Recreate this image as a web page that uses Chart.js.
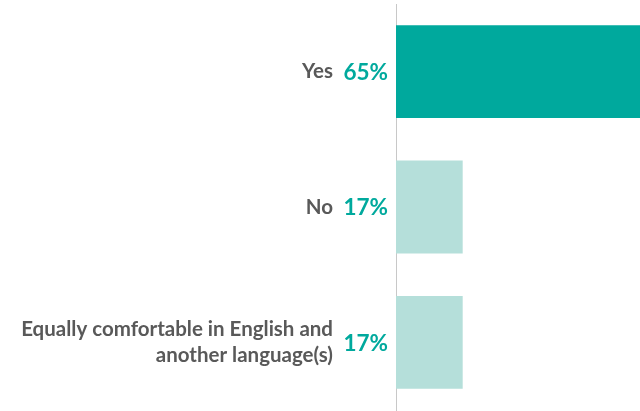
<!DOCTYPE html>
<html>
<head>
<meta charset="utf-8">
<script src="https://cdn.jsdelivr.net/npm/chart.js@4"></script>
<style>
html,body{margin:0;padding:0;background:#fff;}
#wrap{width:640px;height:411px;}
</style>
</head>
<body>
<div id="wrap"><canvas id="c" width="640" height="411"></canvas></div>
<script>
const categories = [["Yes"], ["No"], ["Equally comfortable in English and", "another language(s)"]];
const values = [65, 17, 17];
const valueLabels = ["65%", "17%", "17%"];
const barColors = ["#00A99D", "#B5DFDA", "#B5DFDA"];

const FONT = "Lato, 'Open Sans', sans-serif";

const valuePlugin = {
  id: 'valueLabels',
  afterDatasetsDraw(chart) {
    const ctx = chart.ctx;
    const meta = chart.getDatasetMeta(0);
    ctx.save();
    ctx.font = "bold 22.5px " + FONT;
    ctx.fillStyle = "#00A99D";
    ctx.textAlign = "right";
    ctx.textBaseline = "middle";
    meta.data.forEach((bar, i) => {
      ctx.fillText(valueLabels[i], chart.chartArea.left - 8, bar.y + 1);
    });
    ctx.restore();
  }
};

new Chart(document.getElementById('c'), {
  type: 'bar',
  data: {
    labels: categories,
    datasets: [{
      data: values,
      backgroundColor: barColors,
      borderWidth: 0,
      barPercentage: 0.686,
      categoryPercentage: 1
    }]
  },
  options: {
    indexAxis: 'y',
    responsive: false,
    animation: false,
    layout: { padding: { top: 4, bottom: 1, left: 0, right: 0 } },
    plugins: { legend: { display: false }, tooltip: { enabled: false } },
    scales: {
      x: { display: false, min: 0, max: 62.2 },
      y: {
        afterFit: s => { s.width = 396; s.paddingTop = 0; s.paddingBottom = 0; },
        grid: { display: false, drawTicks: false },
        border: { display: true, dash: [4, 4], color: '#C8C8C8', width: 1 },
        ticks: {
          padding: 63,
          color: '#595959',
          font: { family: FONT, size: 20.5, weight: 'bold', lineHeight: 1.27 }
        }
      }
    }
  },
  plugins: [valuePlugin]
});
</script>
</body>
</html>
